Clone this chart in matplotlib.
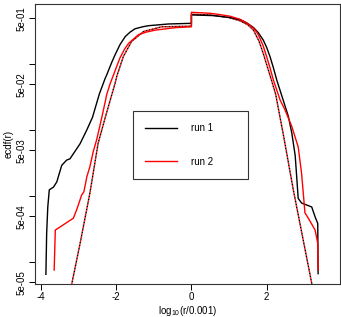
import numpy as np
import matplotlib
matplotlib.use("Agg")
import matplotlib.pyplot as plt
from matplotlib.lines import Line2D

plt.rcParams['font.family'] = ['Liberation Sans', 'DejaVu Sans']
plt.rcParams['mathtext.fontset'] = 'custom'
plt.rcParams['mathtext.rm'] = 'Liberation Sans'
plt.rcParams['mathtext.it'] = 'Liberation Sans'

# x = log10(r/0.001), y = log10(ecdf)
run1_x = [-3.87, -3.85, -3.82, -3.78, -3.67, -3.58, -3.45, -3.32, -3.23, -3.10, -2.96,
          -2.78, -2.63, -2.45, -2.30, -2.25, -2.12, -2.03, -1.90, -1.76, -1.63, -1.50,
          -1.30, -1.14, -0.61, 0.0, 0.0, 0.58, 1.03, 1.29, 1.47, 1.65, 1.78, 1.91, 2.00,
          2.09, 2.18, 2.27, 2.39, 2.58, 2.67, 2.76, 2.80, 2.84, 2.93, 3.20, 3.29, 3.36, 3.37]
run1_y = [-4.18, -3.56, -3.16, -2.90, -2.86, -2.78, -2.53, -2.45, -2.43, -2.32, -2.20,
          -1.99, -1.80, -1.45, -1.22, -1.155, -0.97, -0.854, -0.70, -0.578, -0.51, -0.46,
          -0.43, -0.413, -0.387, -0.377, -0.25, -0.26, -0.29, -0.32, -0.37, -0.44, -0.52,
          -0.63, -0.74, -0.88, -1.05, -1.236, -1.45, -1.79, -2.04, -2.38, -2.70, -3.03,
          -3.10, -3.16, -3.31, -3.41, -4.17]

run2_x = [-3.65, -3.62, -3.14, -3.05, -2.92, -2.86, -2.78, -2.70, -2.61, -2.52, -2.43,
          -2.34, -2.25, -2.16, -2.07, -1.90, -1.78, -1.67, -1.41, -1.20, -0.96, -0.43, 0.0,
          0.0, 0.50, 0.76, 1.03, 1.29, 1.47, 1.65, 1.75, 1.82, 1.91, 2.00, 2.09, 2.18,
          2.36, 2.49, 2.67, 2.84, 2.93, 3.02, 3.11, 3.29, 3.36, 3.37]
run2_y = [-4.115, -3.51, -3.33, -3.20, -2.98, -2.93, -2.70, -2.55, -2.32, -2.14, -1.92,
          -1.69, -1.45, -1.29, -1.155, -0.90, -0.77, -0.68, -0.55, -0.51, -0.48, -0.443,
          -0.43, -0.21, -0.225, -0.245, -0.27, -0.316, -0.37, -0.45, -0.52, -0.60, -0.72,
          -0.88, -1.05, -1.236, -1.54, -1.69, -1.94, -2.25, -2.65, -3.25, -3.33, -3.51,
          -3.71, -4.115]

fit_x = [-3.25, -3.18, -2.96, -2.70, -2.48, -2.27, -2.03, -1.98, -1.81, -1.59, -1.27,
         -0.79, 0.0, 0.0, 0.50, 1.00, 1.30, 1.50, 1.65, 1.80, 1.92, 2.00, 2.12, 2.24,
         2.45, 2.71, 3.20, 3.25]
fit_y = [-4.55, -4.32, -3.71, -2.95, -2.19, -1.76, -1.286, -1.17, -0.88, -0.65, -0.50,
         -0.43, -0.42, -0.24, -0.25, -0.29, -0.34, -0.40, -0.48, -0.65, -0.85, -1.00,
         -1.22, -1.45, -2.08, -2.90, -4.316, -4.45]

xticks = [-4, -2, 0, 2]
yticks_labeled = [5e-1, 5e-2, 5e-3, 5e-4, 5e-5]
ytick_labels = ['5e-01', '5e-02', '5e-03', '5e-04', '5e-05']
yticks_minor = [1e-1, 1e-2, 1e-3, 1e-4]

fig = plt.figure(figsize=(3.41, 3.17), dpi=100)
ax = fig.add_axes([35/341, 33/317, 305/341, 280/317])

lw = 1.0
ax.plot(fit_x, 10**np.array(fit_y), color='black', lw=lw, linestyle=(0, (1.2, 1.2)))
ax.plot(fit_x, 10**np.array(fit_y), color='red', lw=lw, linestyle=(1.2, (1.2, 1.2)))
ax.plot(run1_x, 10**np.array(run1_y), color='black', lw=lw)
ax.plot(run2_x, 10**np.array(run2_y), color='red', lw=lw)

ax.set_yscale('log')
ax.set_xlim(-4.16, 3.952)
ax.set_ylim(10**-4.327, 10**-0.0843)

ax.set_xticks(xticks)
ax.set_xticklabels([str(t) for t in xticks])
ax.yaxis.set_minor_locator(matplotlib.ticker.NullLocator())
ax.set_yticks(yticks_labeled + yticks_minor)
ax.set_yticklabels(ytick_labels + [''] * len(yticks_minor))
ax.tick_params(axis='both', labelsize=7, length=4, width=0.7, direction='out', pad=2)
for lab in ax.get_yticklabels():
    lab.set_rotation(90)
    lab.set_va('center')

for s in ax.spines.values():
    s.set_linewidth(0.8)
    s.set_color('#333333')

ax.set_xlabel(r'$\mathrm{log}_{10}$(r/0.001)', fontsize=7, labelpad=1)
ax.set_ylabel('ecdf(r)', fontsize=7, labelpad=2)

handles = [Line2D([], [], color='black', lw=lw), Line2D([], [], color='red', lw=lw)]
leg = ax.legend(handles, ['run 1', 'run 2'], loc='upper left',
                bbox_to_anchor=(0.32, 0.381, 0.379, 0.238), mode='expand',
                borderaxespad=0, fontsize=7, handlelength=3.3, handletextpad=1.4,
                labelspacing=2.4, borderpad=1.3, fancybox=False, framealpha=1)
leg.get_frame().set_edgecolor('#333333')
leg.get_frame().set_linewidth(0.8)

fig.savefig('out.png', dpi=100)
